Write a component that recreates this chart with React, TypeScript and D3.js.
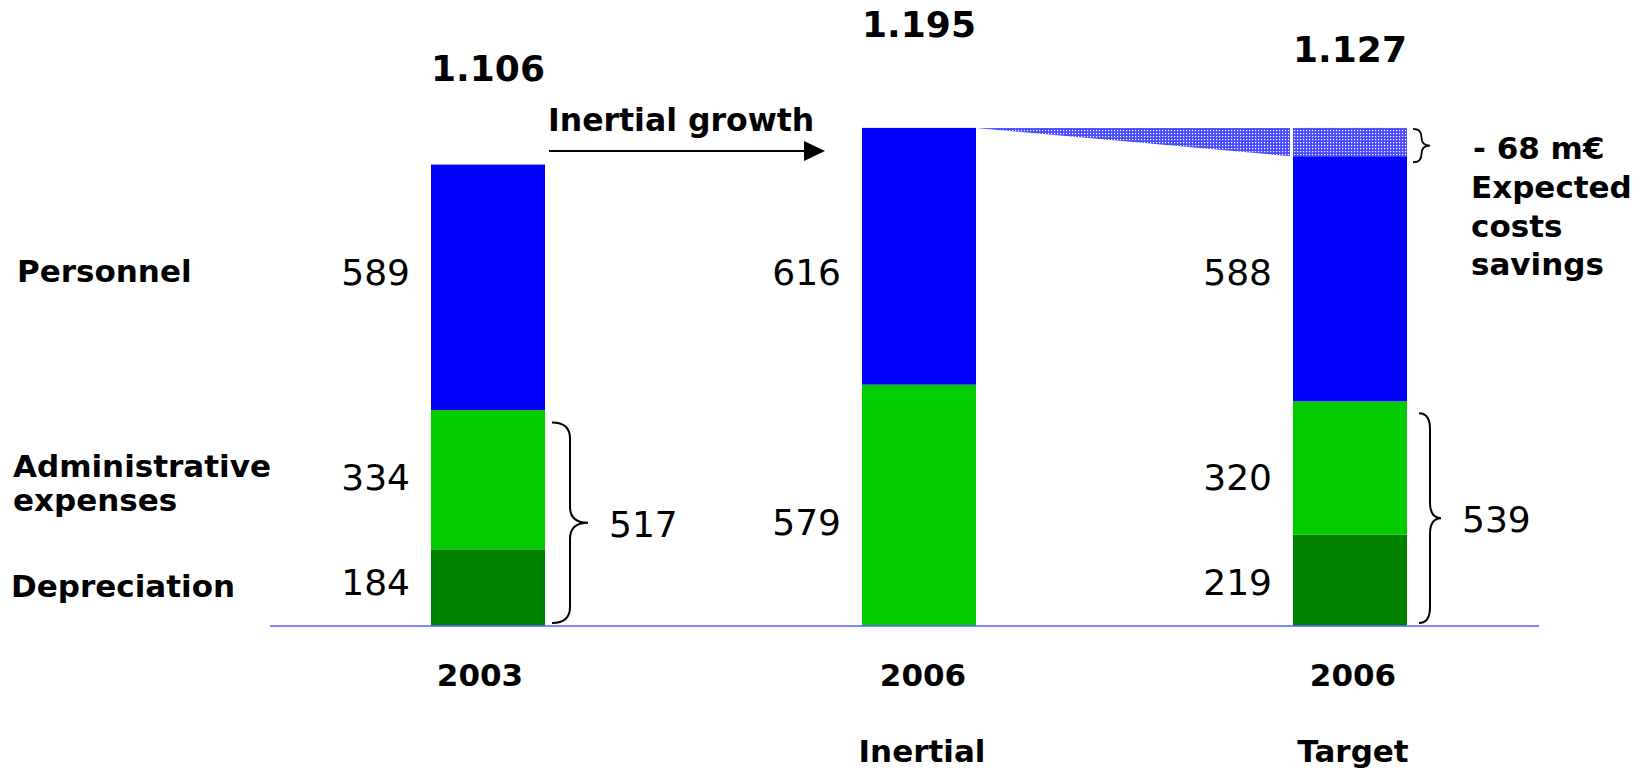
import React from "react";
import * as d3 from "d3";

// ---- data ----
const categories = ["2003", "2006", "2006"];
const subLabels = ["", "Inertial", "Target"];
const depreciation = [184, 0, 219];
const admin = [334, 579, 320];
const personnel = [589, 616, 588];
const totals = [1106, 1195, 1127];
const braceTotals: (number | null)[] = [517, null, 539];
const rowLabels = ["Personnel", "Administrative", "expenses", "Depreciation"];
const growthLabel = "Inertial growth";
const savingsLines = ["Expected", "costs", "savings"];

const COLORS: Record<string, string> = {
  depreciation: "#008000",
  admin: "#00CC00",
  personnel: "#0000FF",
};

const FONT = "'DejaVu Sans', Verdana, sans-serif";

const fmt = d3.formatLocale({
  decimal: ",",
  thousands: ".",
  grouping: [3],
  currency: ["", "€"],
}).format(",d");

function bracePath(x: number, y0: number, y1: number, w: number) {
  const mid = (y0 + y1) / 2;
  const xm = x + w / 2;
  const r = Math.min(16, (y1 - y0) / 4);
  return [
    `M${x},${y0}`,
    `Q${xm},${y0} ${xm},${y0 + r}`,
    `L${xm},${mid - r}`,
    `Q${xm},${mid} ${x + w},${mid}`,
    `Q${xm},${mid} ${xm},${mid + r}`,
    `L${xm},${y1 - r}`,
    `Q${xm},${y1} ${x},${y1}`,
  ].join(" ");
}

export default function App() {
  const W = 1643;
  const H = 772;
  const baseY = 626;
  const y = d3.scaleLinear().domain([0, 1200]).range([baseY, 125.8]);
  const x = d3.scalePoint<number>().domain([0, 1, 2]).range([488, 1350]);
  const bw = 114;

  const rows = categories.map((_, i) => ({
    i,
    depreciation: depreciation[i],
    admin: admin[i],
    personnel: personnel[i],
  }));
  const keys = ["depreciation", "admin", "personnel"];
  const stacked = d3.stack<any>().keys(keys)(rows);

  const left = (i: number) => (x(i) as number) - bw / 2;
  const right = (i: number) => (x(i) as number) + bw / 2;

  // label layout (rows aligned to left-hand row labels)
  const rowY: Record<string, number> = { personnel: 285, admin: 490, depreciation: 595 };
  const totalOffsets = [84, 91, 94];
  const braceWidths = [36, 22];
  const labelSize = 31;
  const numSize = 36;

  const savings = totals[1] - totals[2];

  const valueLabels: { x: number; y: number; text: string }[] = [];
  stacked.forEach((s) => {
    s.forEach((d, i) => {
      const v = d[1] - d[0];
      if (v <= 0) return;
      let ly = rowY[s.key];
      if (i === 1 && s.key === "admin") ly = (rowY.admin + rowY.depreciation) / 2 - 8;
      valueLabels.push({ x: left(i) - 21, y: ly, text: fmt(v) });
    });
  });

  const braces = braceTotals
    .map((v, i) => ({ v, i }))
    .filter((b) => b.v != null)
    .map((b, k) => {
      const y0 = y(b.v as number) + 12;
      const y1 = y(0) - 3;
      const bx = right(b.i) + (k === 0 ? 7 : 12);
      return { ...b, y0, y1, bx, w: braceWidths[k] };
    });

  const arrowY = 151;
  const ax0 = right(0) + 4;
  const ax1 = left(1) - 37;

  return (
    <svg
      width={W}
      height={H}
      style={{ position: "absolute", left: 0, top: 0, background: "#fff" }}
      fontFamily={FONT}
    >
      <defs>
        <pattern id="hatch" width="3" height="3" patternUnits="userSpaceOnUse">
          <rect width="3" height="3" fill="#4a4aff" />
          <rect x="1" y="1" width="1.2" height="1.2" fill="#ffffff" />
        </pattern>
      </defs>

      {/* stacked bars */}
      {stacked.map((s) =>
        s.map((d, i) =>
          d[1] - d[0] > 0 ? (
            <rect
              key={s.key + i}
              x={left(i)}
              y={y(d[1])}
              width={bw}
              height={y(d[0]) - y(d[1])}
              fill={COLORS[s.key]}
            />
          ) : null
        )
      )}

      {/* savings hatched area */}
      <polygon
        points={`${right(1)},${y(totals[1])} ${left(2) - 3},${y(totals[1])} ${left(2) - 3},${y(totals[2])}`}
        fill="url(#hatch)"
      />
      <rect
        x={left(2)}
        y={y(totals[1])}
        width={bw}
        height={y(totals[2]) - y(totals[1])}
        fill="url(#hatch)"
      />

      {/* axis */}
      <line x1={270} x2={1539} y1={baseY} y2={baseY} stroke="#5c5cff" strokeWidth={1.6} />

      {/* totals */}
      {totals.map((t, i) => (
        <text
          key={"t" + i}
          x={x(i)}
          y={y(t) - totalOffsets[i]}
          textAnchor="middle"
          fontSize={numSize}
          fontWeight="bold"
        >
          {fmt(t)}
        </text>
      ))}

      {/* value labels */}
      {valueLabels.map((l, k) => (
        <text key={"v" + k} x={l.x} y={l.y} textAnchor="end" fontSize={numSize}>
          {l.text}
        </text>
      ))}

      {/* braces */}
      {braces.map((b) => (
        <g key={"b" + b.i}>
          <path d={bracePath(b.bx, b.y0, b.y1, b.w)} fill="none" stroke="#000" strokeWidth={2} />
          <text
            x={b.bx + b.w + 21}
            y={(b.y0 + b.y1) / 2 + 14}
            fontSize={numSize}
          >
            {fmt(b.v as number)}
          </text>
        </g>
      ))}

      {/* savings brace and label */}
      <path
        d={bracePath(right(2) + 6, y(totals[1]) + 1, y(totals[2]) + 6, 17)}
        fill="none"
        stroke="#000"
        strokeWidth={1.8}
      />
      <text x={1473} y={159} fontSize={labelSize} fontWeight="bold">
        {`- ${savings} m€`}
      </text>
      {savingsLines.map((s, k) => (
        <text key={"s" + k} x={1471} y={198 + k * 38.7} fontSize={labelSize} fontWeight="bold">
          {s}
        </text>
      ))}

      {/* inertial growth arrow */}
      <text x={ax0 - 1} y={131} fontSize={labelSize + 0.5} fontWeight="bold">
        {growthLabel}
      </text>
      <line x1={ax0} x2={ax1 - 18} y1={arrowY} y2={arrowY} stroke="#000" strokeWidth={2} />
      <polygon
        points={`${ax1},${arrowY} ${ax1 - 21},${arrowY - 10} ${ax1 - 21},${arrowY + 10}`}
        fill="#000"
      />

      {/* row labels */}
      <text x={17} y={282} fontSize={labelSize} fontWeight="bold">
        {rowLabels[0]}
      </text>
      <text x={13} y={477} fontSize={labelSize} fontWeight="bold">
        {rowLabels[1]}
      </text>
      <text x={13} y={511} fontSize={labelSize} fontWeight="bold">
        {rowLabels[2]}
      </text>
      <text x={11} y={597} fontSize={labelSize} fontWeight="bold">
        {rowLabels[3]}
      </text>

      {/* category labels */}
      {categories.map((c, i) => (
        <text
          key={"c" + i}
          x={(x(i) as number) + (i === 0 ? -8 : i === 1 ? 4 : 3)}
          y={686}
          textAnchor="middle"
          fontSize={labelSize}
          fontWeight="bold"
        >
          {c}
        </text>
      ))}
      {subLabels.map((c, i) =>
        c ? (
          <text
            key={"sl" + i}
            x={(x(i) as number) + 3}
            y={762}
            textAnchor="middle"
            fontSize={labelSize}
            fontWeight="bold"
          >
            {c}
          </text>
        ) : null
      )}
    </svg>
  );
}
